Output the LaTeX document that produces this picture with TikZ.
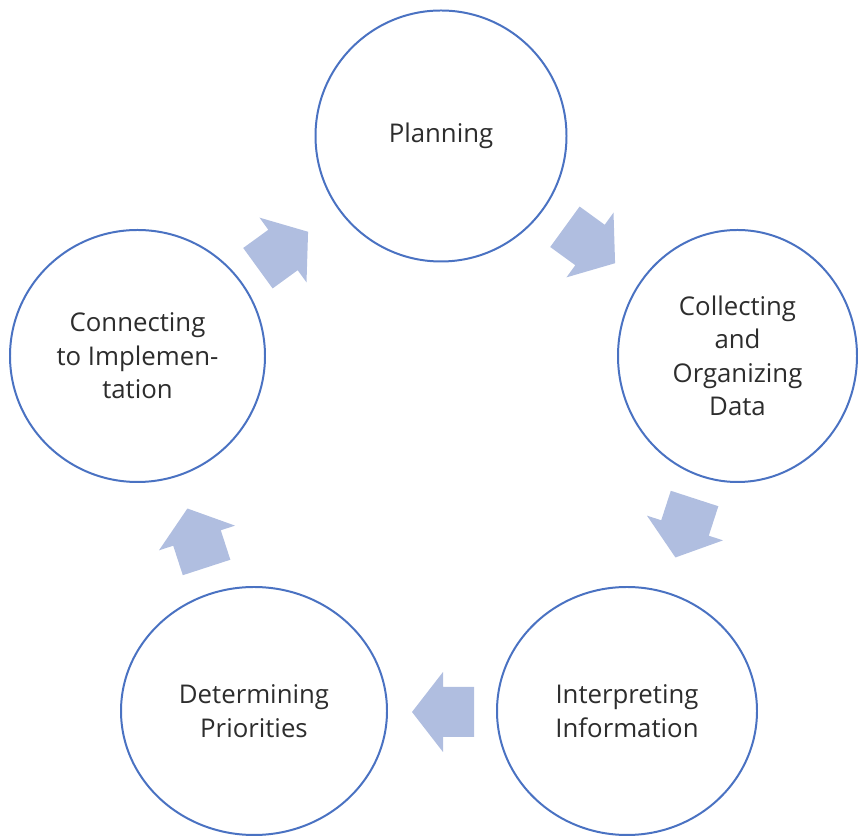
\documentclass[tikz,border=0pt]{standalone}
\usepackage{fontspec}
\setmainfont{Open Sans}
\usetikzlibrary{shapes.geometric}
\definecolor{ringblue}{RGB}{74,114,194}
\definecolor{arrowfill}{RGB}{176,190,224}
\definecolor{txt}{RGB}{45,45,45}
\begin{document}
\begin{tikzpicture}[x=0.03cm,y=0.03cm,
  stage/.style={ellipse, draw=ringblue, line width=1.7pt, fill=white, inner sep=0pt,
    align=center, text=txt, font=\fontsize{22}{28.6}\selectfont},
  blockarrow/.style={fill=arrowfill}]
\useasboundingbox (0,0) rectangle (858,838);
% stages
\node[stage, minimum width=251*0.03cm, minimum height=251*0.03cm] (plan) at (441,702) {Planning};
\node[stage, minimum width=239*0.03cm, minimum height=252*0.03cm] (collect) at (737.5,482) {Collecting\\and\\Organizing\\Data};
\node[stage, minimum width=260*0.03cm, minimum height=248*0.03cm] (interp) at (627,127) {Interpreting\\Information};
\node[stage, minimum width=266*0.03cm, minimum height=248*0.03cm] (determ) at (254,127) {Determining\\Priorities};
\node[stage, minimum width=255*0.03cm, minimum height=252*0.03cm] (connect) at (137.5,482) {Connecting\\to Implemen-\\tation};
% block arrows
\foreach \cx/\cy/\ang in {590/593/-36, 685/310/-108, 443/126/180, 197/300/108, 283/588/36}{
  \fill[blockarrow, shift={(\cx,\cy)}, rotate=\ang]
    (-31,-25) -- (0,-25) -- (0,-40) -- (31,0) -- (0,40) -- (0,25) -- (-31,25) -- cycle;
}
\end{tikzpicture}
\end{document}
